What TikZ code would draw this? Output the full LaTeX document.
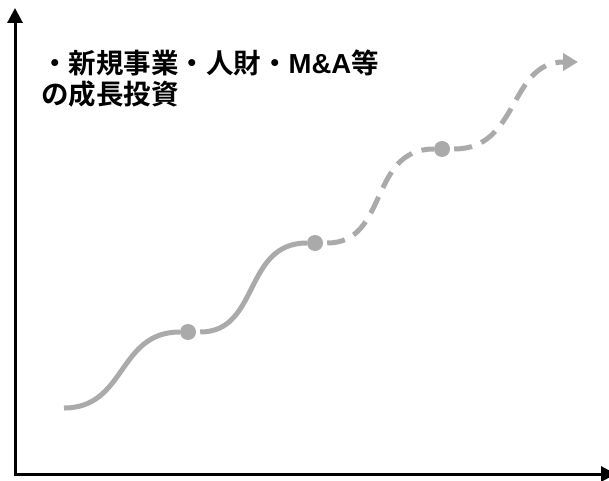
\documentclass[tikz,border=0pt]{standalone}
\usepackage{fontspec}
\newfontfamily\jpfont{Noto Sans CJK JP}[BoldFont={* Bold}]
\newfontfamily\latinfont{Liberation Sans}
\usetikzlibrary{arrows.meta}
\definecolor{curvegray}{HTML}{AAAAAA}

\begin{document}
\begin{tikzpicture}[x=1pt, y=1pt,
  axis/.style={black, line width=3pt, line join=miter},
  growth/.style={curvegray, line width=5pt},
  plan/.style={growth, dash pattern=on 18pt off 10pt},
  milestone/.style={circle, fill=curvegray, minimum size=16pt, inner sep=0pt}]

\useasboundingbox (0,0) rectangle (609,480);

% 座標軸
\coordinate (O) at (15,6);
\coordinate (ytip) at (15,472);
\coordinate (xtip) at (616,6);
\draw[axis, {Triangle[length=15pt,width=15pt]}-{Triangle[length=15pt,width=15pt]}] (ytip) |- (xtip);

\node[anchor=north west, align=left, inner sep=0pt,
  font=\jpfont\bfseries\fontsize{27.5pt}{31pt}\selectfont] (invest) at (41,430)
  {・新規事業・人財・{\latinfont\bfseries M\&A}等\\の成長投資};

% 成長カーブ
\coordinate (start) at (64,72);
\node[milestone] (m1) at (188,148) {};
\node[milestone] (m2) at (315,237) {};
\node[milestone] (m3) at (442,331) {};
\coordinate (goal) at (578,418);

\draw[growth] (start) to[out=0, in=180, looseness=1.15] (m1);
\draw[growth, shorten <=4pt] (m1) to[out=0, in=180, looseness=1.15] (m2);
\draw[plan, shorten <=4pt] (m2) to[out=0, in=180, looseness=1.15] (m3);
\draw[plan, shorten <=4pt, -{Triangle[length=15pt,width=17pt]}] (m3) to[out=0, in=180, looseness=1.15] (goal);

\end{tikzpicture}
\end{document}
